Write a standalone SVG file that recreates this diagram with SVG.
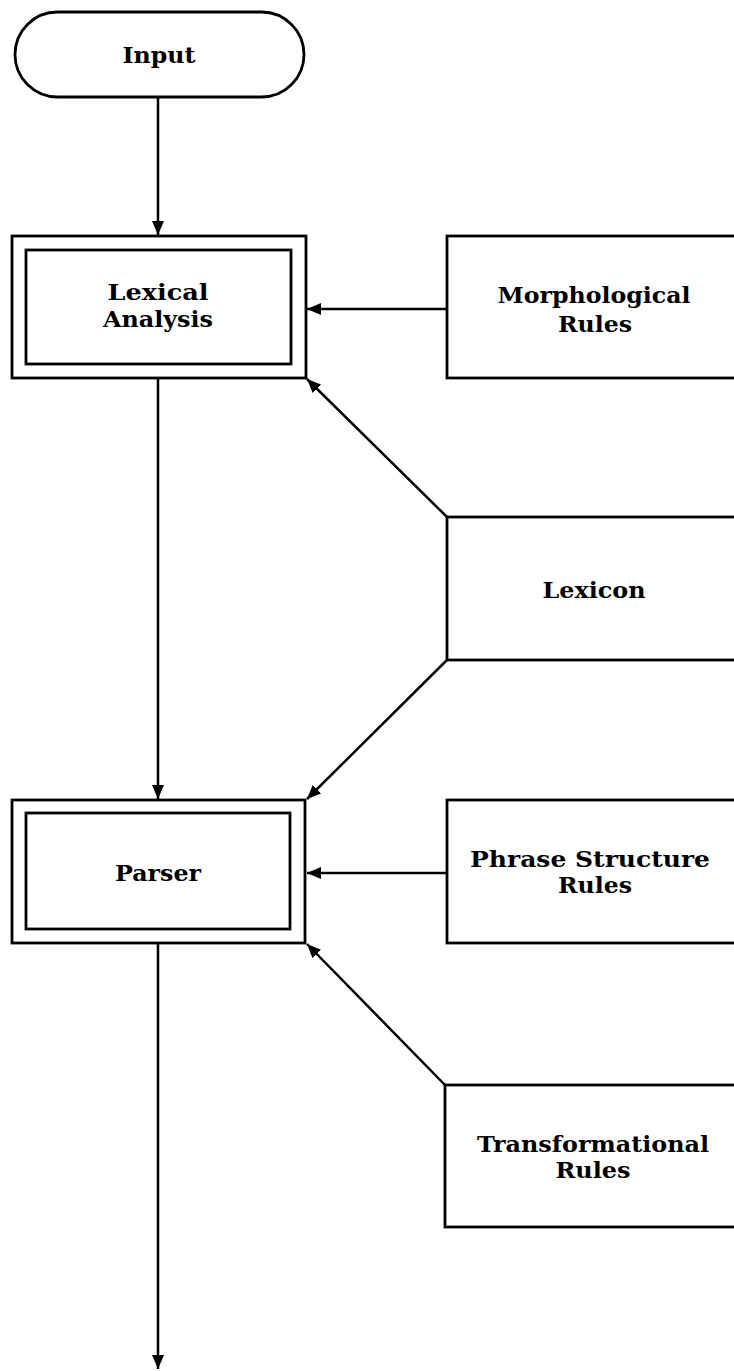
<svg xmlns="http://www.w3.org/2000/svg" width="734" height="1371" viewBox="0 0 734 1371">
<defs>
<style>
.box{fill:#fff;stroke:#000;stroke-width:2.8}
.inner{fill:none;stroke:#000;stroke-width:2.8}
.lbl{font-family:"DejaVu Serif","Liberation Serif",serif;font-weight:bold;font-size:22px;fill:#000;text-anchor:middle}
.edge{fill:none;stroke:#000;stroke-width:2.5}
</style>
<marker id="ah" viewBox="0 0 14 12" refX="14" refY="6" markerWidth="14" markerHeight="12" markerUnits="userSpaceOnUse" orient="auto">
<path d="M0,0 L14,6 L0,12 Z" fill="#000"/>
</marker>
</defs>
<rect width="734" height="1371" fill="#fff"/>
<g id="connectors">
<line class="edge" x1="158" y1="97" x2="158" y2="235" marker-end="url(#ah)"/>
<line class="edge" x1="447" y1="309" x2="307" y2="309" marker-end="url(#ah)"/>
<line class="edge" x1="447" y1="517" x2="307" y2="379" marker-end="url(#ah)"/>
<line class="edge" x1="158" y1="378" x2="158" y2="799" marker-end="url(#ah)"/>
<line class="edge" x1="447" y1="660" x2="307" y2="799" marker-end="url(#ah)"/>
<line class="edge" x1="447" y1="873" x2="307" y2="873" marker-end="url(#ah)"/>
<line class="edge" x1="445" y1="1085" x2="307" y2="944" marker-end="url(#ah)"/>
<line class="edge" x1="158" y1="943" x2="158" y2="1369" marker-end="url(#ah)"/>
</g>
<g id="input">
<rect class="box" x="15" y="12" width="289" height="85" rx="42.5" ry="42.5"/>
<text class="lbl" x="159" y="63" textLength="73" lengthAdjust="spacingAndGlyphs">Input</text>
</g>
<g id="lexical">
<rect class="box" x="12" y="236" width="294" height="142"/>
<rect class="inner" x="26" y="250" width="265" height="114"/>
<text class="lbl" x="158" y="300" textLength="101" lengthAdjust="spacingAndGlyphs">Lexical</text>
<text class="lbl" x="158" y="327" textLength="110" lengthAdjust="spacingAndGlyphs">Analysis</text>
</g>
<g id="morph">
<rect class="box" x="447" y="236" width="295" height="142"/>
<text class="lbl" x="594" y="303" textLength="193" lengthAdjust="spacingAndGlyphs">Morphological</text>
<text class="lbl" x="595" y="332" textLength="74" lengthAdjust="spacingAndGlyphs">Rules</text>
</g>
<g id="lexicon">
<rect class="box" x="447" y="517" width="295" height="143"/>
<text class="lbl" x="594" y="598" textLength="103" lengthAdjust="spacingAndGlyphs">Lexicon</text>
</g>
<g id="parser">
<rect class="box" x="12" y="800" width="293" height="143"/>
<rect class="inner" x="26" y="813" width="264" height="116"/>
<text class="lbl" x="158" y="881" textLength="86" lengthAdjust="spacingAndGlyphs">Parser</text>
</g>
<g id="phrase">
<rect class="box" x="447" y="800" width="295" height="143"/>
<text class="lbl" x="590" y="867" textLength="240" lengthAdjust="spacingAndGlyphs">Phrase Structure</text>
<text class="lbl" x="595" y="893" textLength="74" lengthAdjust="spacingAndGlyphs">Rules</text>
</g>
<g id="transform">
<rect class="box" x="445" y="1085" width="297" height="142"/>
<text class="lbl" x="593" y="1152" textLength="232" lengthAdjust="spacingAndGlyphs">Transformational</text>
<text class="lbl" x="593" y="1178" textLength="75" lengthAdjust="spacingAndGlyphs">Rules</text>
</g>
</svg>
